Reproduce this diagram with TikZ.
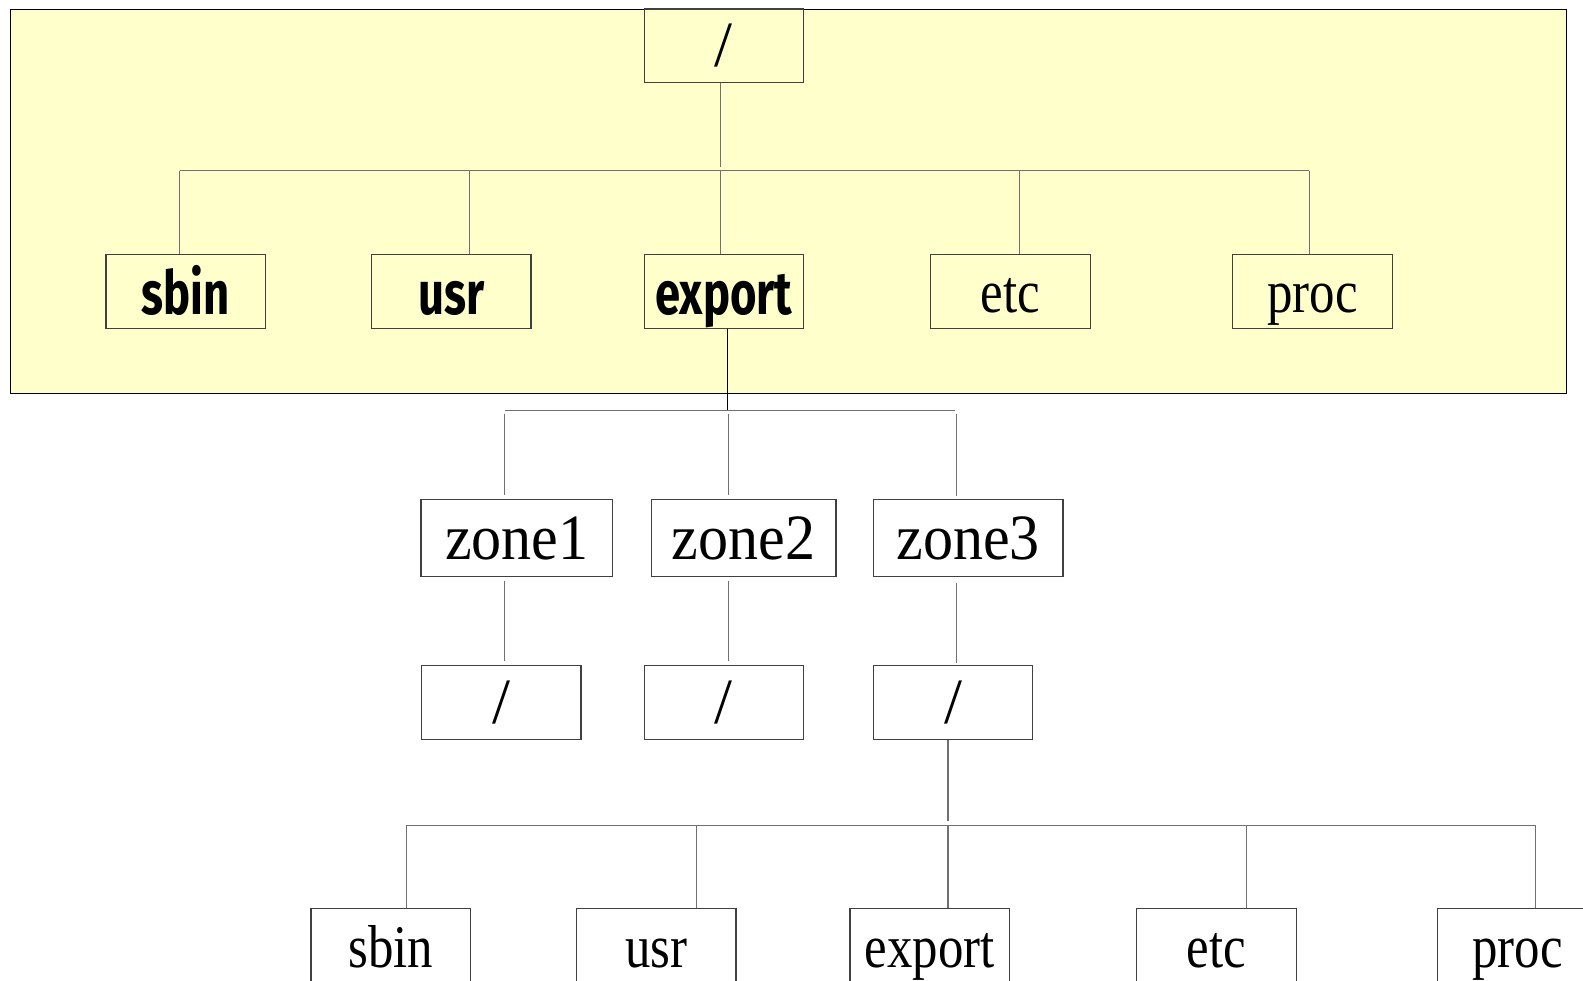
\documentclass[tikz,border=0pt]{standalone}
\usepackage{fontspec}
\setmainfont{Liberation Serif}
\newfontfamily\fsans{Fira Sans}
\definecolor{zoneyellow}{HTML}{FFFFCC}
\definecolor{linegray}{HTML}{707070}
\definecolor{boxgray}{HTML}{404040}
\newcommand{\sertxt}[1]{\fontsize{30}{30}\selectfont\scalebox{0.84}[1]{#1}}
\newcommand{\zonetxt}[1]{\fontsize{32}{32}\selectfont\scalebox{0.93}[1]{#1}}
\newcommand{\slashtxt}{\fontsize{32}{32}\selectfont /}
\newcommand{\bsans}[1]{\fsans\bfseries\fontsize{30}{30}\selectfont\scalebox{0.75}[1]{#1}}
\begin{document}
\begin{tikzpicture}[x=0.5pt,y=-0.5pt,
  dirbox/.style={draw=boxgray,line width=0.6pt,rectangle,inner sep=0pt,minimum width=79pt,minimum height=36.5pt},
  sertext/.style={text height=21.5pt,text depth=0pt},
  sanstext/.style={text height=23.5pt,text depth=0pt},
  zonebox/.style={draw=boxgray,line width=0.6pt,rectangle,inner sep=0pt,minimum height=38pt},
  conn/.style={draw=linegray,line width=0.5pt}]
\useasboundingbox (0,0) rectangle (1568,971);
\clip (0,0) rectangle (1568,971);
\node[draw=black,fill=zoneyellow,line width=0.5pt,rectangle,inner sep=0pt,minimum width=771pt,minimum height=190.5pt] (global) at (781,199.5) {};
% global zone
\node[dirbox] (root) at (717,45.5) {\slashtxt};
\node[dirbox,sanstext] (sbin) at (184,288.5) {\bsans{sbin}};
\node[dirbox,sanstext] (usr) at (447,288.5) {\bsans{usr}};
\node[dirbox,sanstext] (export) at (717,288.5) {\bsans{export}};
\node[dirbox,sertext] (etc) at (1001,288.5) {\sertxt{etc}};
\node[dirbox,sertext] (proc) at (1300,288.5) {\sertxt{proc}};
% zones
\node[zonebox,minimum width=95pt] (zone1) at (512,533) {\zonetxt{zone1}};
\node[zonebox,minimum width=91.5pt] (zone2) at (736.5,533) {\zonetxt{zone2}};
\node[zonebox,minimum width=94pt] (zone3) at (959,533) {\zonetxt{zone3}};
% zone roots
\node[dirbox] (r1) at (496.5,696) {\slashtxt};
\node[dirbox] (r2) at (717,696) {\slashtxt};
\node[dirbox] (r3) at (944,696) {\slashtxt};
% zone3 contents
\node[dirbox,sertext] (sbin3) at (387,936.5) {\sertxt{sbin}};
\node[dirbox,sertext] (usr3) at (650,936.5) {\sertxt{usr}};
\node[dirbox,sertext] (export3) at (921,936.5) {\sertxt{export}};
\node[dirbox,sertext] (etc3) at (1205,936.5) {\sertxt{etc}};
\node[dirbox,sertext] (proc3) at (1503,936.5) {\sertxt{proc}};
% bus coordinates
\coordinate (b1l) at (178,169);
\coordinate (b1r) at (1297,169);
\coordinate (b2l) at (500,407);
\coordinate (b2r) at (946,407);
\coordinate (b3l) at (402,818);
\coordinate (b3r) at (1521,818);
% connectors, global
\draw[conn] (root.south -| 714,0) -- (714,165);
\draw[conn] (b1l) -- (b1r);
\draw[conn] (b1l) -- (b1l |- sbin.north);
\draw[conn] (465,169) -- (usr.north -| 465,0);
\draw[conn] (714,169) -- (export.north -| 714,0);
\draw[conn] (1010,169) -- (etc.north -| 1010,0);
\draw[conn] (b1r) -- (b1r |- proc.north);
% export to zones
\draw[draw=black,line width=0.5pt] (export.south -| 721,0) -- (721,407);
\draw[conn] (b2l) -- (b2r);
\draw[conn] (500,410) -- ([yshift=2pt]zone1.north -| 500,0);
\draw[conn] (722,410) -- ([yshift=2pt]zone2.north -| 722,0);
\draw[conn] (947,410) -- ([yshift=1.5pt]zone3.north -| 947,0);
% zones to roots
\draw[conn] ([yshift=-2pt]zone1.south -| 500,0) -- ([yshift=2pt]r1.north -| 500,0);
\draw[conn] ([yshift=-2pt]zone2.south -| 722,0) -- ([yshift=2pt]r2.north -| 722,0);
\draw[conn] ([yshift=-3pt]zone3.south -| 947,0) -- ([yshift=1pt]r3.north -| 947,0);
% zone3 root to contents
\draw[conn] (r3.south -| 939,0) -- (939,813);
\draw[conn] (b3l) -- (b3r);
\draw[conn] (403,818) -- (sbin3.north -| 403,0);
\draw[conn] (690,818) -- (usr3.north -| 690,0);
\draw[conn] (939,818) -- (export3.north -| 939,0);
\draw[conn] (1235,818) -- (etc3.north -| 1235,0);
\draw[conn] (b3r) -- (b3r |- proc3.north);
\end{tikzpicture}
\end{document}
